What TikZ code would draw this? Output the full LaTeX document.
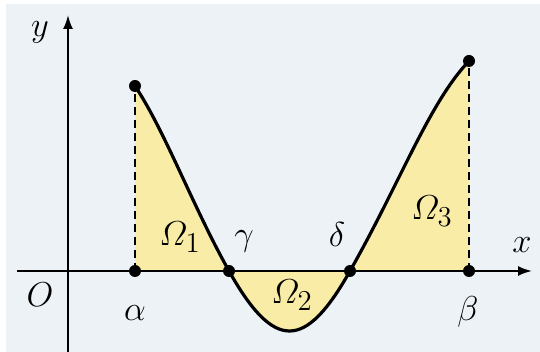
\documentclass[tikz,border=0pt]{standalone}
\usepackage{amsmath}
\usepackage{tikz}
\usetikzlibrary{arrows.meta,positioning}
\definecolor{paperbg}{RGB}{237, 242, 246}
\definecolor{areafill}{RGB}{249, 236, 166}

\begin{document}
\begin{tikzpicture}[x=0.5pt, y=0.5pt, >={Latex[length=7pt,width=5pt]}, dot/.style={circle, fill=black, inner sep=0pt, minimum size=6pt}, lbl/.style={font=\fontsize{19}{22}\selectfont}]
    \fill[white] (-68,-81) rectangle (472,271);
    \fill[paperbg] (-62,-81) rectangle (472,267);
    \useasboundingbox (-68,-81) rectangle (472,271);

    \coordinate (O) at (0,0);
    \coordinate (xstart) at (-51,0);
    \coordinate (xend) at (464,0);
    \coordinate (ystart) at (0,-81);
    \coordinate (yend) at (0,256);
    \coordinate (alpha) at (67,0);
    \coordinate (atop) at (67,185);
    \coordinate (gamma) at (161,0);
    \coordinate (delta) at (282,0);
    \coordinate (btop) at (401,210);
    \coordinate (beta) at (401,0);

    \fill[areafill] (atop) .. controls (97,140) and (125,64) .. (gamma)
        .. controls (206,-80) and (237,-80) .. (delta)
        .. controls (332,88) and (361,168) .. (btop) -- (beta) -- (alpha) -- cycle;

    \draw[->, line width=1pt] (xstart) -- (xend);
    \draw[->, line width=1pt] (ystart) -- (yend);
    \draw[line width=1pt, dash pattern=on 4pt off 2.5pt] (alpha) -- (atop);
    \draw[line width=1pt, dash pattern=on 4pt off 2.5pt] (beta) -- (btop);
    \draw[line width=1.6pt] (atop) .. controls (97,140) and (125,64) .. (gamma)
        .. controls (206,-80) and (237,-80) .. (delta)
        .. controls (332,88) and (361,168) .. (btop);

    \node[dot] (dalpha) at (alpha) {};
    \node[dot] (datop) at (atop) {};
    \node[dot] (dgamma) at (gamma) {};
    \node[dot] (ddelta) at (delta) {};
    \node[dot] (dbeta) at (beta) {};
    \node[dot] (dbtop) at (btop) {};

    \node[lbl] (ylabel) at (-28,239) {$y$};
    \node[lbl] (xlabel) at (454,26) {$x$};
    \node[lbl] (olabel) at (-28,-24) {$O$};
    \node[lbl] (alabel) at (67,-42) {$\alpha$};
    \node[lbl] (blabel) at (400,-41) {$\beta$};
    \node[lbl] (glabel) at (176,30) {$\gamma$};
    \node[lbl] (dlabel) at (269,36) {$\delta$};
    \node[lbl] (om1) at (112,34) {$\varOmega_1$};
    \node[lbl] (om2) at (224,-24) {$\varOmega_2$};
    \node[lbl] (om3) at (364,60) {$\varOmega_3$};
\end{tikzpicture}
\end{document}
